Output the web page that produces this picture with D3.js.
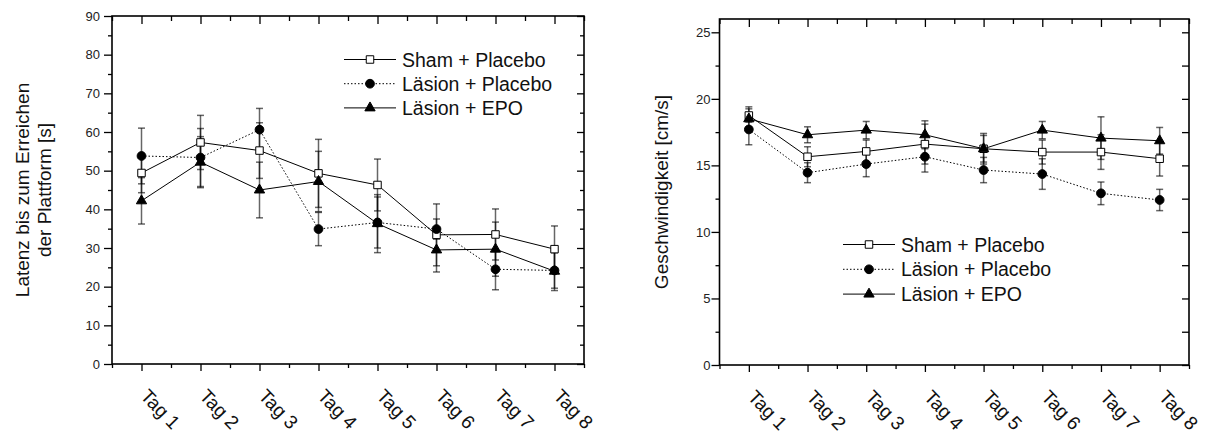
<!DOCTYPE html>
<html>
<head>
<meta charset="utf-8">
<script src="https://cdn.jsdelivr.net/npm/d3@7"></script>
<style>
    body { margin: 0; background: #fff; }
    svg { font-family: "Liberation Sans", Arial, sans-serif; }
</style>
</head>
<body>
<svg id="chart" width="1207" height="437"></svg>
<script>
// x categories
var days = ["Tag 1", "Tag 2", "Tag 3", "Tag 4", "Tag 5", "Tag 6", "Tag 7", "Tag 8"];
var seriesNames = ["Sham + Placebo", "Läsion + Placebo", "Läsion + EPO"];

// left panel: latency [s]
var latSham = [49.4, 57.3, 55.2, 49.3, 46.3, 33.4, 33.5, 29.7];
var latShamErr = [5.1, 7.0, 7.2, 8.8, 6.7, 8.0, 6.6, 6.0];
var latLesPla = [53.8, 53.4, 60.6, 34.9, 36.6, 34.9, 24.5, 24.2];
var latLesPlaErr = [7.2, 7.5, 5.5, 4.3, 6.6, 2.6, 5.3, 4.6];
var latLesEpo = [42.2, 52.2, 45.0, 47.2, 36.3, 29.5, 29.7, 24.0];
var latLesEpoErr = [6.0, 6.6, 7.2, 7.8, 7.5, 5.7, 7.0, 5.0];
var latTicks = [0, 10, 20, 30, 40, 50, 60, 70, 80, 90];

// right panel: speed [cm/s]
var speedSham = [18.75, 15.65, 16.05, 16.6, 16.25, 16.0, 16.0, 15.5];
var speedShamErr = [0.5, 0.75, 0.85, 1.5, 1.0, 0.9, 1.3, 1.3];
var speedLesPla = [17.7, 14.45, 15.1, 15.65, 14.65, 14.35, 12.9, 12.4];
var speedLesPlaErr = [1.15, 0.75, 0.95, 1.15, 0.95, 1.15, 0.85, 0.8];
var speedLesEpo = [18.5, 17.3, 17.65, 17.3, 16.25, 17.65, 17.05, 16.85];
var speedLesEpoErr = [0.9, 0.6, 0.65, 1.05, 1.15, 0.65, 1.6, 1.0];
var speedTicks = [0, 5, 10, 15, 20, 25];

/** One panel of the figure */
class Panel {
    constructor(svg, opts) {
        this.g = svg.append('g');
        this.opts = opts;
        this.x = d3.scaleLinear().domain([0.5, days.length + 0.5]).range([opts.left, opts.right]);
        this.y = d3.scaleLinear().domain(opts.yDomain).range([opts.bottom, opts.top]);
    }

    drawAxes() {
        var o = this.opts, g = this.g, x = this.x, y = this.y;
        var major = d3.range(1, days.length + 1);
        var minor = d3.range(0.5, days.length + 1, 1);
        var yMinor = o.yMinor;

        var add = function (axis, tr, cls) {
            var a = g.append('g').attr('class', cls).attr('transform', tr).call(axis);
            a.select('.domain').remove();
            a.selectAll('line').attr('stroke', '#000').attr('stroke-width', 1.3);
            return a;
        };

        add(d3.axisBottom(x).tickValues(major).tickSize(7).tickFormat(''), 'translate(0,' + o.bottom + ')', 'xb');
        add(d3.axisBottom(x).tickValues(minor).tickSize(4).tickFormat(''), 'translate(0,' + o.bottom + ')', 'xb2');
        add(d3.axisTop(x).tickValues(major).tickSize(-8).tickFormat(''), 'translate(0,' + o.top + ')', 'xt');
        add(d3.axisTop(x).tickValues(minor).tickSize(-5).tickFormat(''), 'translate(0,' + o.top + ')', 'xt2');

        var yl = add(d3.axisLeft(y).tickValues(o.yTicks).tickSize(8).tickPadding(o.yPad), 'translate(' + o.left + ',0)', 'yl');
        yl.selectAll('text').attr('font-size', 13).attr('fill', '#222').attr('font-family', null);
        add(d3.axisLeft(y).tickValues(yMinor).tickSize(4).tickFormat(''), 'translate(' + o.left + ',0)', 'yl2');
        add(d3.axisRight(y).tickValues(o.yTicks).tickSize(-7).tickFormat(''), 'translate(' + o.right + ',0)', 'yr');
        add(d3.axisRight(y).tickValues(yMinor).tickSize(o.rightMinor).tickFormat(''), 'translate(' + o.right + ',0)', 'yr2');

        g.append('rect')
            .attr('x', o.left).attr('y', o.top)
            .attr('width', o.right - o.left).attr('height', o.bottom - o.top)
            .attr('fill', 'none').attr('stroke', '#000').attr('stroke-width', 1.6);

        // rotated day labels
        g.selectAll('.day')
            .data(days)
            .enter()
            .append('text')
            .attr('class', 'day')
            .attr('transform', function (d, i) { return 'translate(' + (x(i + 1) - 2) + ',' + (o.bottom + 33) + ') rotate(46)'; })
            .attr('font-size', 19)
            .attr('fill', '#111')
            .text(function (d) { return d; });

        // y title
        var t = g.append('text')
            .attr('transform', 'translate(' + o.titleX + ',' + ((o.top + o.bottom) / 2) + ') rotate(-90)')
            .attr('text-anchor', 'middle')
            .attr('font-size', 19)
            .attr('fill', '#111');
        o.title.forEach(function (line, i) {
            t.append('tspan').attr('x', 0).attr('dy', i === 0 ? 0 : 22).text(line);
        });
    }

    drawSeries(series) {
        var g = this.g, x = this.x, y = this.y;

        // error bars first
        series.forEach(function (s) {
            var eb = g.append('g').attr('stroke', '#000').attr('stroke-opacity', 0.6).attr('stroke-width', 1.5);
            s.values.forEach(function (v, i) {
                var cx = x(i + 1), hi = y(v + s.err[i]), lo = y(v - s.err[i]);
                eb.append('line').attr('x1', cx).attr('x2', cx).attr('y1', hi).attr('y2', lo);
                eb.append('line').attr('x1', cx - 3.5).attr('x2', cx + 3.5).attr('y1', hi).attr('y2', hi);
                eb.append('line').attr('x1', cx - 3.5).attr('x2', cx + 3.5).attr('y1', lo).attr('y2', lo);
            });
        });

        var line = d3.line()
            .x(function (d, i) { return x(i + 1); })
            .y(function (d) { return y(d); });

        series.forEach(function (s) {
            g.append('path')
                .datum(s.values)
                .attr('d', line)
                .attr('fill', 'none')
                .attr('stroke', '#000')
                .attr('stroke-width', 1)
                .attr('stroke-dasharray', s.dash);
        });

        series.forEach(function (s) {
            g.selectAll(null)
                .data(s.values)
                .enter()
                .append('path')
                .attr('d', d3.symbol().type(s.symbol).size(s.size))
                .attr('transform', function (d, i) { return 'translate(' + x(i + 1) + ',' + y(d) + ')'; })
                .attr('fill', s.fill)
                .attr('stroke', '#000')
                .attr('stroke-width', 1);
        });
    }

    drawLegend(series, lx, ly, step) {
        var g = this.g.append('g');
        series.forEach(function (s, i) {
            var cy = ly + i * step;
            g.append('line')
                .attr('x1', lx).attr('x2', lx + 52)
                .attr('y1', cy).attr('y2', cy)
                .attr('stroke', '#000').attr('stroke-width', 1)
                .attr('stroke-dasharray', s.dash);
            g.append('path')
                .attr('d', d3.symbol().type(s.symbol).size(s.size))
                .attr('transform', 'translate(' + (lx + 26) + ',' + cy + ')')
                .attr('fill', s.fill).attr('stroke', '#000').attr('stroke-width', 1);
            g.append('text')
                .attr('x', lx + 58).attr('y', cy)
                .attr('dy', '0.36em')
                .attr('font-size', 19.5)
                .attr('fill', '#111')
                .text(seriesNames[i]);
        });
    }
}

function makeSeries(a, ae, b, be, c, ce) {
    return [
        { values: a, err: ae, symbol: d3.symbolSquare, size: 56, fill: '#fff', dash: null },
        { values: b, err: be, symbol: d3.symbolCircle, size: 60, fill: '#000', dash: '1.5,2' },
        { values: c, err: ce, symbol: d3.symbolTriangle, size: 46, fill: '#000', dash: null }
    ];
}

var svg = d3.select('#chart');

var left = new Panel(svg, {
    left: 112, right: 584, top: 16, bottom: 364,
    yDomain: [0, 90], yTicks: latTicks, yMinor: d3.range(5, 90, 10),
    yPad: 4, rightMinor: -4, titleX: 29,
    title: ['Latenz bis zum Erreichen', 'der Plattform [s]']
});
left.drawAxes();
var latSeries = makeSeries(latSham, latShamErr, latLesPla, latLesPlaErr, latLesEpo, latLesEpoErr);
left.drawSeries(latSeries);
left.drawLegend(latSeries, 344, 59.5, 24.2);

var right = new Panel(svg, {
    left: 719.5, right: 1189, top: 19, bottom: 365,
    yDomain: [0, 26], yTicks: speedTicks, yMinor: d3.range(2.5, 26, 5),
    yPad: 1, rightMinor: -7, titleX: 668,
    title: ['Geschwindigkeit [cm/s]']
});
right.drawAxes();
var speedSeries = makeSeries(speedSham, speedShamErr, speedLesPla, speedLesPlaErr, speedLesEpo, speedLesEpoErr);
right.drawSeries(speedSeries);
right.drawLegend(speedSeries, 843, 244.5, 24.8);
</script>
</body>
</html>
